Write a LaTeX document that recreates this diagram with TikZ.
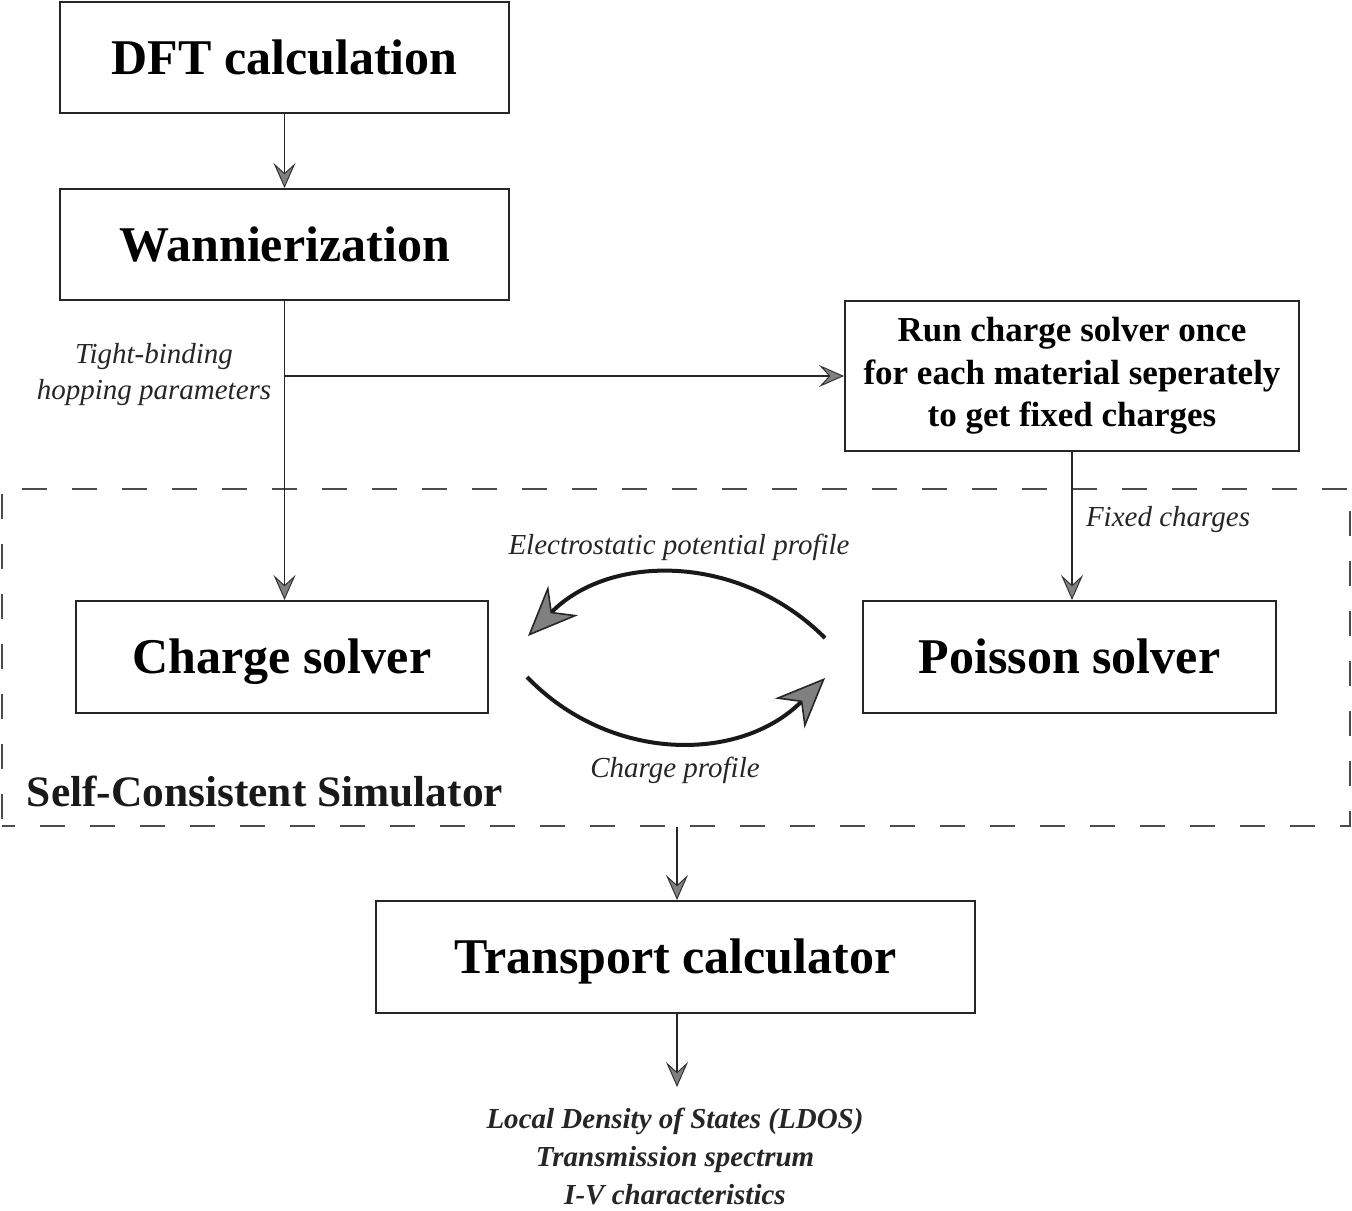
\documentclass[tikz,border=0pt]{standalone}
\usepackage{fontspec}
\setmainfont{Liberation Serif}
\usetikzlibrary{arrows.meta}

\begin{document}
\begin{tikzpicture}[x=0.5pt,y=0.5pt,yscale=-1,
		box/.style={draw=black!85, line width=1pt, minimum width=224.5pt, minimum height=55.5pt, inner sep=0pt, font=\fontsize{25}{30}\selectfont\bfseries},
		capbox/.style={box, text height=16.5pt, text depth=0pt},
		lbl/.style={font=\fontsize{14.5}{18}\selectfont\itshape, inner sep=0pt, align=center, text=black!85},
		conn/.style={draw=black!85, line width=0.8pt, -{Stealth[length=12.5pt, width=11pt, inset=5pt, color=black!80, fill=gray, line width=0.5pt]}},
		loop/.style={draw=black!90, line width=2pt, -{Stealth[length=25pt, width=21pt, inset=8pt, color=black!85, fill=gray, line width=0.8pt]}}]
		\useasboundingbox (0,0) rectangle (1352,1210);
		
		%Shape: Dashed frame
		\node (scs) at (676,657.5) [draw=black!70, line width=0.75pt, dash pattern=on 12.5pt off 12.5pt, dash phase=6pt, minimum width=674pt, minimum height=168.5pt, inner sep=0pt] {};
		
		% Text Node
		\node (dft) at (284.5,57.5) [capbox] {DFT calculation};
		% Text Node
		\node (wan) at (284.5,244.5) [capbox] {Wannierization};
		% Text Node
		\node (run) at (1072,376) [box, minimum width=227pt, minimum height=75pt, align=center, font=\fontsize{17.5}{21.25}\selectfont\bfseries] {Run charge solver once\\for each material seperately\\to get fixed charges};
		% Text Node
		\node (cs) at (282,657) [capbox, minimum width=206pt, minimum height=56pt] {Charge solver};
		% Text Node
		\node (ps) at (1069.5,657) [capbox, minimum width=206.5pt, minimum height=56pt] {Poisson solver};
		% Text Node
		\node (tc) at (675.5,957) [capbox, minimum width=299.5pt, minimum height=56pt] {Transport calculator};
		
		% Text Node
		\node (tb) at (154,375) [lbl] {Tight-binding\\hopping parameters};
		% Text Node
		\node (fc) at (1168,520) [lbl] {Fixed charges};
		% Text Node
		\node (epp) at (679,547) [lbl] {Electrostatic potential profile};
		% Text Node
		\node (cp) at (675,770) [lbl] {Charge profile};
		% Text Node
		\node (scsl) at (265,791) [inner sep=0pt, font=\fontsize{21.7}{26}\selectfont\bfseries, text=black!90] {Self-Consistent Simulator};
		% Text Node
		\node (out) at (675,1156) [lbl, font=\fontsize{14.5}{19}\selectfont\bfseries\itshape] {Local Density of States (LDOS)\\Transmission spectrum\\I-V characteristics};
		
		\coordinate (branch) at (285,376);
		\coordinate (outtip) at (677,1087);
		\coordinate (psl) at (825,638);
		\coordinate (csr) at (528,636);
		\coordinate (csl) at (527,677);
		\coordinate (psr) at (825,678);
		
		% Connection
		\draw [conn] (dft) -- (wan);
		% Connection
		\draw [conn] (wan) -- (wan |- cs.north);
		% Connection
		\draw [conn] (branch) -- (run.west);
		% Connection
		\draw [conn] (run) -- (run |- ps.north);
		% Connection
		\draw [conn] (scs.south -| outtip) -- (tc.north -| outtip);
		% Connection
		\draw [conn] (tc.south -| outtip) -- (outtip);
		% Connection
		\draw [loop] (psl) .. controls (740,553) and (610,553) .. (csr);
		% Connection
		\draw [loop] (csl) .. controls (610,763) and (740,763) .. (psr);
	\end{tikzpicture}
\end{document}
